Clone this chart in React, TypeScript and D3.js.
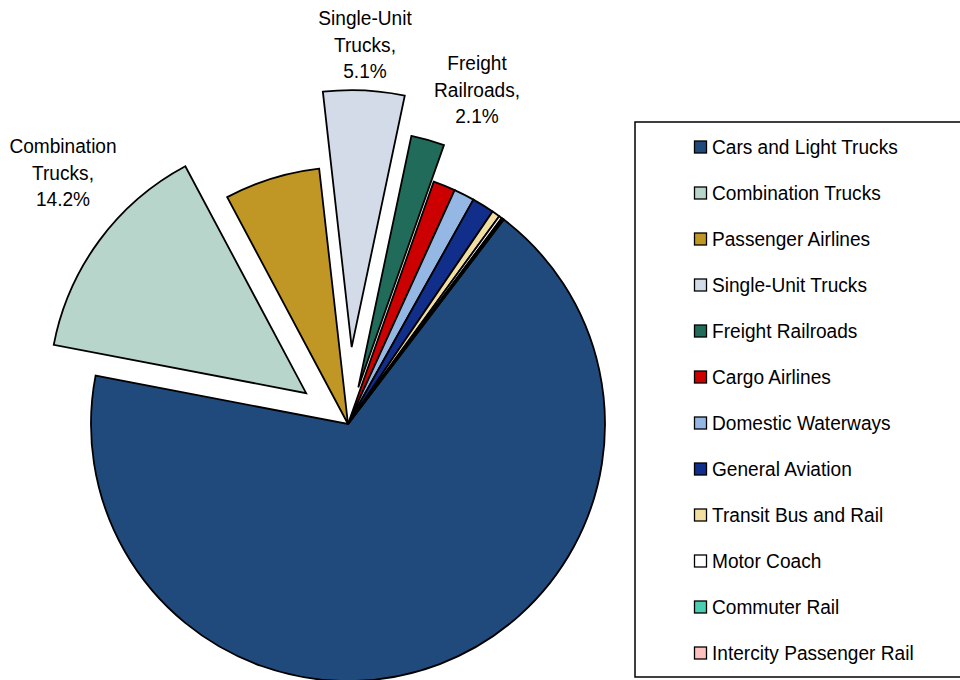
import React from "react";
import * as d3 from "d3";

const categories = [
  "Cars and Light Trucks",
  "Combination Trucks",
  "Passenger Airlines",
  "Single-Unit Trucks",
  "Freight Railroads",
  "Cargo Airlines",
  "Domestic Waterways",
  "General Aviation",
  "Transit Bus and Rail",
  "Motor Coach",
  "Commuter Rail",
  "Intercity Passenger Rail",
];
const values = [67.65, 14.2, 6.0, 5.1, 2.1, 1.4, 1.3, 1.4, 0.5, 0.2, 0.1, 0.05];
const colors = [
  "#214A7C", "#B8D5CB", "#C09624", "#D3DAE8", "#216B5A", "#CC0000",
  "#94B8E3", "#102E8A", "#F2DEA0", "#FFFFFF", "#4CCCB0", "#FFC0C0",
];
const explode = [0, 52, 0, 77, 38, 0, 0, 0, 0, 0, 0, 0];
const labeled = [
  { idx: 1, lines: ["Combination", "Trucks,", "14.2%"], x: 63, y: 147 },
  { idx: 3, lines: ["Single-Unit", "Trucks,", "5.1%"], x: 365, y: 19 },
  { idx: 4, lines: ["Freight", "Railroads,", "2.1%"], x: 477, y: 64 },
];

const W = 960;
const H = 680;
const cx = 348;
const cy = 424;
const R = 257;
const startDeg = 37.3;
const SX = 0.91;

export default function App() {
  const pie = d3
    .pie<number>()
    .sort(null)
    .value((d) => d)
    .startAngle((startDeg * Math.PI) / 180)
    .endAngle((startDeg * Math.PI) / 180 + 2 * Math.PI);
  const arcs = pie(values);
  const arcGen = d3.arc<d3.PieArcDatum<number>>().innerRadius(0).outerRadius(R);
  const font = "'Liberation Sans', Arial, sans-serif";
  const legendX = 635;
  const legendY = 122;
  const rowH = 46;
  return (
    <svg
      width={W}
      height={H}
      style={{ position: "absolute", left: 0, top: 0, background: "#fff" }}
    >
      <g transform={`translate(${cx},${cy})`}>
        {arcs.map((a, i) => {
          const mid = (a.startAngle + a.endAngle) / 2;
          const dx = Math.sin(mid) * explode[i];
          const dy = -Math.cos(mid) * explode[i];
          return (
            <path
              key={categories[i]}
              d={arcGen(a) || ""}
              transform={`translate(${dx},${dy})`}
              fill={colors[i]}
              stroke="#000"
              strokeWidth={1.8}
              strokeLinejoin="miter"
            />
          );
        })}
      </g>
      {labeled.map((l) => (
        <g key={l.idx} transform={`translate(${l.x},0) scale(${SX},1)`}>
          <text
            x={0}
            y={l.y}
            textAnchor="middle"
            fontFamily={font}
            fontSize={21}
            fill="#000"
            dominantBaseline="middle"
          >
            {l.lines.map((s, k) => (
              <tspan key={k} x={0} y={l.y + 1 + k * 26.5}>
                {s}
              </tspan>
            ))}
          </text>
        </g>
      ))}
      <rect
        x={legendX}
        y={legendY}
        width={340}
        height={555}
        fill="#fff"
        stroke="#000"
        strokeWidth={1.5}
      />
      {categories.map((c, i) => {
        const y = 147 + i * rowH;
        return (
          <g key={c}>
            <rect
              x={694.5}
              y={y - 6}
              width={12}
              height={12}
              fill={colors[i]}
              stroke="#000"
              strokeWidth={1.3}
            />
            <g transform={`translate(712,${y + 1.5}) scale(${SX},1)`}>
              <text
                x={0}
                y={0}
                dominantBaseline="middle"
                fontFamily={font}
                fontSize={21}
                fill="#000"
              >
                {c}
              </text>
            </g>
          </g>
        );
      })}
    </svg>
  );
}
